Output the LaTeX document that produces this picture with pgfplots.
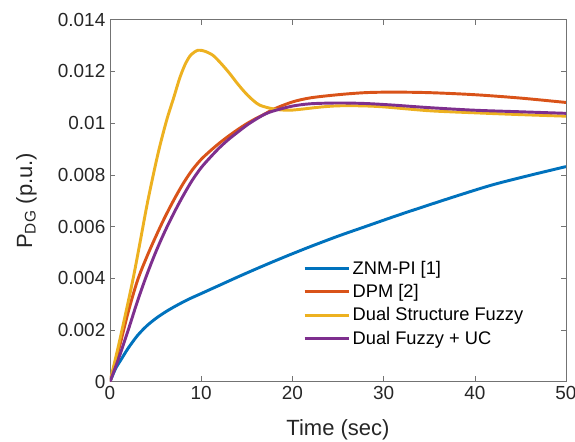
\documentclass[border=0pt]{standalone}
\usepackage{fontspec}
\setmainfont{Liberation Sans}
\usepackage{pgfplots}
\pgfplotsset{compat=1.18}
\definecolor{mblue}{HTML}{0072BD}
\definecolor{morange}{HTML}{D95319}
\definecolor{myellow}{HTML}{EDB120}
\definecolor{mpurple}{HTML}{7E2F8E}
\definecolor{axgray}{HTML}{262626}

\begin{document}
\begin{tikzpicture}
\begin{axis}[
  scale only axis, width=342pt, height=271.5pt,
  xmin=0, xmax=50, ymin=0, ymax=0.014,
  xtick={0,10,20,30,40,50}, xticklabels={0,10,20,30,40,50},
  ytick={0,0.002,0.004,0.006,0.008,0.01,0.012,0.014},
  yticklabels={0,0.002,0.004,0.006,0.008,0.01,0.012,0.014},
  scaled y ticks=false,
  tick align=inside, major tick length=4pt,
  axis line style={black!55}, every tick/.style={black!55},
  tick label style={font=\fontsize{14.2}{16}\selectfont, text=axgray},
  label style={font=\fontsize{16.5}{19}\selectfont, text=axgray},
  xlabel={Time (sec)}, xlabel shift=8pt,
  ylabel={P\textsubscript{DG} (p.u.)}, ylabel shift=9pt,
  legend style={draw=none, fill=none, at={(0.42,0.345)}, anchor=north west,
    font=\fontsize{13.7}{16}\selectfont, row sep=2pt, inner sep=1pt},
  legend cell align=left,
  legend image code/.code={\draw[#1, line width=2.2pt] (0pt,0pt) -- (33pt,0pt);},
  every axis plot/.append style={line width=2.2pt, smooth, tension=0.5},
]
\addplot[mblue] coordinates {
(0,0) (0.6,0.0005) (1.24,0.00087) (2,0.0013) (3,0.00178) (4,0.00215) (5,0.00244)
(6,0.00268) (7,0.00289) (8.5,0.00317) (10,0.00341) (12,0.00373) (14,0.00405)
(16,0.00436) (18,0.00466) (20,0.00495) (22,0.00523) (25,0.00563) (28,0.006)
(31.5,0.00643) (35,0.00684) (38.5,0.00724) (42,0.00762) (46,0.00798) (50,0.00832)};
\addlegendentry{ZNM-PI [1]}
\addplot[morange] coordinates {
(0,0) (1,0.0013) (2,0.0027) (3,0.0039) (4,0.0048) (5,0.0056) (6,0.00635)
(7,0.00703) (8,0.00765) (9,0.00818) (10,0.0086) (11,0.00893) (12,0.00923)
(13,0.0095) (14,0.00975) (15,0.00998) (16,0.01018) (17,0.01036) (18,0.01055)
(20,0.01082) (22,0.01098) (25,0.0111) (28,0.01118) (31,0.0112) (35,0.01118)
(40,0.0111) (45,0.01097) (50,0.0108)};
\addlegendentry{DPM [2]}
\addplot[myellow] coordinates {
(0,0) (1,0.0015) (2,0.0031) (2.6,0.0041) (3.3,0.0054) (4.15,0.0070) (5.25,0.0088)
(6.2,0.0101) (7,0.0110) (7.65,0.01175) (8.3,0.01232) (8.9,0.01265) (9.66,0.01282)
(10.4,0.01278) (11.3,0.01262) (12.2,0.0123) (13.1,0.01193) (14,0.01152)
(14.9,0.01115) (15.7,0.01088) (16.4,0.0107) (17.5,0.01058) (18.5,0.01052)
(19.7,0.0105) (21,0.01054) (23,0.01062) (25,0.01067) (27.5,0.01067) (30,0.01063)
(35,0.01048) (40,0.0104) (45,0.01033) (50,0.01027)};
\addlegendentry{Dual Structure Fuzzy}
\addplot[mpurple] coordinates {
(0,0) (1,0.00095) (2,0.0020) (3,0.0031) (4,0.0041) (5,0.0050) (6,0.0058)
(7,0.00652) (8,0.00718) (9,0.00778) (10,0.00828) (11,0.00868) (12,0.00905)
(13,0.00937) (14,0.00965) (15,0.00992) (16,0.01015) (17,0.01035) (18,0.01048)
(20,0.01066) (22,0.01075) (25,0.01078) (28,0.01076) (31,0.0107) (35,0.0106)
(40,0.0105) (45,0.01044) (50,0.01038)};
\addlegendentry{Dual Fuzzy + UC}
\end{axis}
\pgfresetboundingbox
\useasboundingbox (-82.5pt,-45.2pt) rectangle (348.75pt,286.3pt);
\end{tikzpicture}
\end{document}
